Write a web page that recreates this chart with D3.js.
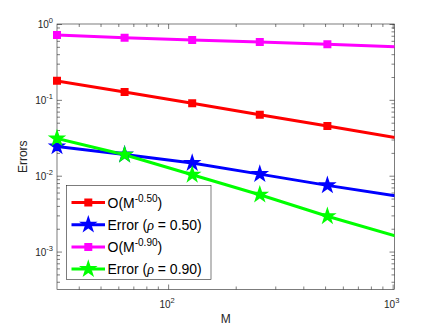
<!DOCTYPE html>
<html>
<head>
<meta charset="utf-8">
<script src="https://d3js.org/d3.v7.min.js"></script>
<style>
  body { margin: 0; background: white; }
  svg { font-family: "Liberation Sans", Arial, sans-serif; }
</style>
</head>
<body>
<div id="chart"></div>
<script>
// data
const mValues = [32, 64, 128, 256, 512, 1024];
const rateHalf = [0.178, 0.127, 0.0904, 0.0638, 0.0451, 0.0318];
const errHalf = [0.0243, 0.0190, 0.0147, 0.0105, 0.00746, 0.00546];
const rateNine = [0.716, 0.660, 0.616, 0.580, 0.541, 0.503];
const errNine = [0.0310, 0.0189, 0.0103, 0.00562, 0.00292, 0.00161];

const xMajor = [100, 1000];
const xMajorExp = ["2", "3"];
const yMajor = [1, 0.1, 0.01, 0.001];
const yMajorExp = ["0", "-1", "-2", "-3"];

const series = [
  { name: "O(M", sup: "-0.50", tail: ")", vals: rateHalf, color: "#ff0000", marker: "square" },
  { name: "Error (", rho: true, tail: " = 0.50)", vals: errHalf, color: "#0000ff", marker: "star" },
  { name: "O(M", sup: "-0.90", tail: ")", vals: rateNine, color: "#ff00ff", marker: "square" },
  { name: "Error (", rho: true, tail: " = 0.90)", vals: errNine, color: "#00ff00", marker: "star" }
];

const w = 436, h = 327;
const padL = 57, padR = 394.5, padT = 24, padB = 289.5;
const axisColor = "#262626";

const svg = d3.select("#chart").append("svg")
  .attr("width", w).attr("height", h);

const x = d3.scaleLog().domain([32, 1019]).range([padL, padR]);
const y = d3.scaleLog().domain([Math.pow(10, -3.5), 1]).range([padB, padT]);

// minor tick values
function minors(lo, hi) {
  const out = [];
  for (let e = Math.floor(Math.log10(lo)); e <= Math.ceil(Math.log10(hi)); e++) {
    for (let k = 2; k <= 9; k++) {
      const v = k * Math.pow(10, e);
      if (v >= lo && v <= hi) out.push(v);
    }
  }
  return out;
}
const xMinor = minors(32, 1019);
const yMinor = minors(Math.pow(10, -3.5), 1);

svg.append("defs").append("clipPath").attr("id", "clip")
  .append("rect").attr("x", padL).attr("y", padT)
  .attr("width", padR - padL).attr("height", padB - padT);

// tick marks (inside, all four sides)
function tickGroup(axis, tx, ty) {
  const g = svg.append("g").attr("transform", "translate(" + tx + "," + ty + ")").call(axis);
  g.select(".domain").remove();
  g.selectAll("line").attr("stroke", axisColor).attr("stroke-width", 0.6);
  g.selectAll("text").remove();
  return g;
}
tickGroup(d3.axisBottom(x).tickValues(xMajor).tickSize(-5), 0, padB);
tickGroup(d3.axisBottom(x).tickValues(xMinor).tickSize(-3), 0, padB);
tickGroup(d3.axisTop(x).tickValues(xMajor).tickSize(-5), 0, padT);
tickGroup(d3.axisTop(x).tickValues(xMinor).tickSize(-3), 0, padT);
tickGroup(d3.axisLeft(y).tickValues(yMajor).tickSize(-5), padL, 0);
tickGroup(d3.axisLeft(y).tickValues(yMinor).tickSize(-3), padL, 0);
tickGroup(d3.axisRight(y).tickValues(yMajor).tickSize(-5), padR, 0);
tickGroup(d3.axisRight(y).tickValues(yMinor).tickSize(-3), padR, 0);

svg.append("rect")
  .attr("x", padL).attr("y", padT)
  .attr("width", padR - padL).attr("height", padB - padT)
  .attr("fill", "none").attr("stroke", axisColor).attr("stroke-width", 0.6);

// tick labels
xMajor.forEach((v, i) => {
  const t = svg.append("text")
    .attr("x", x(v) - 1).attr("y", padB + 18)
    .attr("text-anchor", "middle").attr("font-size", "10px").attr("fill", axisColor);
  t.append("tspan").text("10");
  t.append("tspan").attr("dy", -5).attr("font-size", "7.5px").text(xMajorExp[i]);
});
yMajor.forEach((v, i) => {
  const t = svg.append("text")
    .attr("x", padL - 4).attr("y", y(v) + 4)
    .attr("text-anchor", "end").attr("font-size", "10px").attr("fill", axisColor);
  t.append("tspan").text("10");
  t.append("tspan").attr("dy", -5).attr("font-size", "7.5px").text(yMajorExp[i]);
});

svg.append("text")
  .attr("x", (padL + padR) / 2).attr("y", padB + 33)
  .attr("text-anchor", "middle").attr("font-size", "12px").attr("fill", axisColor)
  .text("M");
svg.append("text")
  .attr("transform", "translate(" + 27 + "," + ((padT + padB) / 2) + ") rotate(-90)")
  .attr("text-anchor", "middle").attr("font-size", "12px").attr("fill", axisColor)
  .text("Errors");

// series
const line = d3.line().x(d => x(d[0])).y(d => y(d[1]));
const starPath = d3.symbol().type(d3.symbolStar).size(48);
const squarePath = d3.symbol().type(d3.symbolSquare).size(36);

function drawMarker(g, s, cx, cy) {
  g.append("path")
    .attr("d", s.marker === "star" ? starPath() : squarePath())
    .attr("transform", "translate(" + cx + "," + cy + ")")
    .attr("fill", s.color).attr("stroke", s.color).attr("stroke-width", 2)
    .attr("stroke-linejoin", "miter");
}

const plot = svg.append("g").attr("clip-path", "url(#clip)");
series.forEach(s => {
  const pts = mValues.map((m, i) => [m, s.vals[i]]);
  plot.append("path").datum(pts)
    .attr("d", line)
    .attr("fill", "none").attr("stroke", s.color).attr("stroke-width", 3);
  const mg = svg.append("g");
  pts.filter(p => p[0] <= x.domain()[1]).forEach(p => drawMarker(mg, s, x(p[0]), y(p[1])));
});

// legend
const lg = svg.append("g");
lg.append("rect")
  .attr("x", 66.5).attr("y", 185.5).attr("width", 144.5).attr("height", 94)
  .attr("fill", "white").attr("stroke", axisColor).attr("stroke-width", 0.6);
series.forEach((s, i) => {
  const cy = 202.5 + i * 22.2;
  lg.append("line")
    .attr("x1", 71.5).attr("x2", 105).attr("y1", cy).attr("y2", cy)
    .attr("stroke", s.color).attr("stroke-width", 3);
  drawMarker(lg, s, 88.3, cy);
  const t = lg.append("text")
    .attr("x", 107.5).attr("y", cy + 5)
    .attr("font-size", "14px").attr("fill", "#000");
  t.append("tspan").text(s.name);
  if (s.sup) {
    t.append("tspan").attr("dy", -6).attr("font-size", "10px").text(s.sup);
    t.append("tspan").attr("dy", 6).text(s.tail);
  } else {
    t.append("tspan").attr("font-family", "'Liberation Serif', serif").attr("font-style", "italic").text("ρ");
    t.append("tspan").text(s.tail);
  }
});
</script>
</body>
</html>
